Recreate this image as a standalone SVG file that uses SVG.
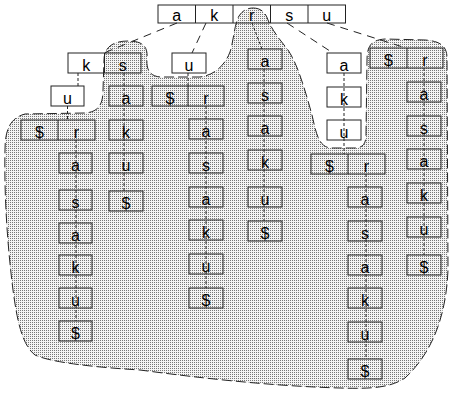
<svg xmlns="http://www.w3.org/2000/svg" width="450" height="394" viewBox="0 0 450 394">
<style>
.b{fill:none;stroke:#222;stroke-width:1}
.t{font-family:"Liberation Sans",Arial,sans-serif;font-size:16px;text-anchor:middle;fill:#000}
.e{fill:none;stroke:#222;stroke-width:1;stroke-dasharray:8 6}
.v{fill:none;stroke:#222;stroke-width:1;stroke-dasharray:3 2}
.rg{fill:url(#dots);stroke:#222;stroke-width:1;stroke-dasharray:10 4}
</style>
<defs>
<pattern id="dots" x="0" y="0" width="2" height="2" patternUnits="userSpaceOnUse">
<rect width="2" height="2" fill="#f4f4f4" shape-rendering="crispEdges"/>
<rect x="0" y="0" width="1" height="1" fill="#777" shape-rendering="crispEdges"/>
</pattern>
</defs>
<rect width="450" height="394" fill="#fff"/>
<g id="region">
<path class="rg" d="M253,8 C262,8 266,14 268,20 C272,30 280,40 288,50 C298,65 305,90 312,115 C316,132 318,146 330,148 L355,148 C364,148 366,142 366,135 L367,60 C367,45 372,40 385,39 L425,40 C440,41 447,46 447,58 L448,270 C446,320 430,355 405,378 C390,388 370,389 340,388 C270,386 200,378 140,370 C90,367 50,362 35,355 C22,345 17,320 13,290 C8,250 4,200 5,150 C5,130 10,118 25,114 L85,113 C98,112 103,105 103,90 L104,60 C104,46 115,41 128,41 C142,41 148,46 147,58 C146,70 150,76 160,77 L200,77 C215,75 225,65 230,52 C234,40 234,25 239,16 C243,10 248,8 253,8 Z"/>
</g>
<g id="connectors">
<path class="e" d="M177,23 L104,53"/>
<path class="e" d="M206,23 L192,53"/>
<path class="e" d="M287,23 L333,53"/>
<path class="e" d="M327,23 L406,48"/>
<path class="v" d="M78,73 V86"/>
<path class="v" d="M67.5,106 V120"/>
<path class="v" d="M76,140 V321"/>
<path class="v" d="M124,73 V191"/>
<path class="v" d="M188,73 V86"/>
<path class="v" d="M206,106 V288"/>
<path class="v" d="M252,23 L262,49"/>
<path class="v" d="M264,69 V221"/>
<path class="v" d="M344,73 V154"/>
<path class="v" d="M366,174 V359"/>
<path class="v" d="M424,68 V255"/>
</g>
<g id="root">
<rect class="b" x="158" y="5" width="187.5" height="18"/>
<path class="b" d="M195.5,5V23M233,5V23M270.5,5V23M308,5V23"/>
<text class="t" x="176.75" y="21">a</text><text class="t" x="214.25" y="21">k</text><text class="t" x="251.75" y="21">r</text><text class="t" x="289.25" y="21">s</text><text class="t" x="326.75" y="21">u</text>
</g>
<g id="n-ks">
<rect class="b" x="68" y="53" width="73" height="20"/><path class="b" d="M104.5,53V73"/>
<text class="t" x="86.25" y="71">k</text><text class="t" x="122.75" y="71">s</text>
</g>
<g id="n-u1"><rect class="b" x="51" y="86" width="33" height="20"/><text class="t" x="67.5" y="104">u</text></g>
<g id="n-dr1">
<rect class="b" x="21" y="120" width="74" height="20"/><path class="b" d="M58,120V140"/>
<text class="t" x="39.5" y="138">$</text><text class="t" x="76.5" y="138">r</text>
</g>
<g id="col1">
<rect class="b" x="59" y="153" width="33" height="20"/><text class="t" x="75.5" y="171">a</text>
<rect class="b" x="59" y="190" width="33" height="20"/><text class="t" x="75.5" y="208">s</text>
<rect class="b" x="59" y="223" width="33" height="20"/><text class="t" x="75.5" y="241">a</text>
<rect class="b" x="59" y="255" width="33" height="20"/><text class="t" x="75.5" y="273">k</text>
<rect class="b" x="59" y="288" width="33" height="20"/><text class="t" x="75.5" y="306">u</text>
<rect class="b" x="59" y="321" width="33" height="20"/><text class="t" x="75.5" y="339">$</text>
</g>
<g id="col2">
<rect class="b" x="109" y="86" width="34" height="20"/><text class="t" x="126" y="104">a</text>
<rect class="b" x="109" y="120" width="34" height="20"/><text class="t" x="126" y="138">k</text>
<rect class="b" x="109" y="153" width="34" height="20"/><text class="t" x="126" y="171">u</text>
<rect class="b" x="109" y="191" width="34" height="20"/><text class="t" x="126" y="209">$</text>
</g>
<g id="n-u2"><rect class="b" x="172" y="53" width="34" height="20"/><text class="t" x="189" y="71">u</text></g>
<g id="n-dr2">
<rect class="b" x="152" y="86" width="72" height="20"/><path class="b" d="M188,86V106"/>
<text class="t" x="170" y="104">$</text><text class="t" x="206" y="104">r</text>
</g>
<g id="col3">
<rect class="b" x="189" y="119" width="34" height="20"/><text class="t" x="206" y="137">a</text>
<rect class="b" x="189" y="153" width="34" height="20"/><text class="t" x="206" y="171">s</text>
<rect class="b" x="189" y="187" width="34" height="20"/><text class="t" x="206" y="205">a</text>
<rect class="b" x="189" y="220" width="34" height="20"/><text class="t" x="206" y="238">k</text>
<rect class="b" x="189" y="254" width="34" height="20"/><text class="t" x="206" y="272">u</text>
<rect class="b" x="189" y="288" width="34" height="20"/><text class="t" x="206" y="306">$</text>
</g>
<g id="col4">
<rect class="b" x="248" y="49" width="34" height="20"/><text class="t" x="265" y="67">a</text>
<rect class="b" x="248" y="83" width="34" height="20"/><text class="t" x="265" y="101">s</text>
<rect class="b" x="248" y="116" width="34" height="20"/><text class="t" x="265" y="134">a</text>
<rect class="b" x="248" y="150" width="34" height="20"/><text class="t" x="265" y="168">k</text>
<rect class="b" x="248" y="187" width="34" height="20"/><text class="t" x="265" y="205">u</text>
<rect class="b" x="248" y="221" width="34" height="20"/><text class="t" x="265" y="239">$</text>
</g>
<g id="n-aku">
<rect class="b" x="327" y="53" width="34" height="20"/><text class="t" x="344" y="71">a</text>
<rect class="b" x="327" y="87" width="34" height="20"/><text class="t" x="344" y="105">k</text>
<rect class="b" x="327" y="120" width="34" height="20"/><text class="t" x="344" y="138">u</text>
</g>
<g id="n-dr3">
<rect class="b" x="311" y="154" width="74" height="20"/><path class="b" d="M348,154V174"/>
<text class="t" x="329.5" y="172">$</text><text class="t" x="366.5" y="172">r</text>
</g>
<g id="col5">
<rect class="b" x="348" y="187" width="34" height="20"/><text class="t" x="365" y="205">a</text>
<rect class="b" x="348" y="221" width="34" height="20"/><text class="t" x="365" y="239">s</text>
<rect class="b" x="348" y="255" width="34" height="20"/><text class="t" x="365" y="273">a</text>
<rect class="b" x="348" y="288" width="34" height="20"/><text class="t" x="365" y="306">k</text>
<rect class="b" x="348" y="322" width="34" height="20"/><text class="t" x="365" y="340">u</text>
<rect class="b" x="348" y="359" width="34" height="20"/><text class="t" x="365" y="377">$</text>
</g>
<g id="n-dr4">
<rect class="b" x="370" y="48" width="73" height="20"/><path class="b" d="M407,48V68"/>
<text class="t" x="388.5" y="66">$</text><text class="t" x="425" y="66">r</text>
</g>
<g id="col6">
<rect class="b" x="407" y="82" width="34" height="20"/><text class="t" x="424" y="100">a</text>
<rect class="b" x="407" y="116" width="34" height="20"/><text class="t" x="424" y="134">s</text>
<rect class="b" x="407" y="149" width="34" height="20"/><text class="t" x="424" y="167">a</text>
<rect class="b" x="407" y="183" width="34" height="20"/><text class="t" x="424" y="201">k</text>
<rect class="b" x="407" y="217" width="34" height="20"/><text class="t" x="424" y="235">u</text>
<rect class="b" x="407" y="255" width="34" height="20"/><text class="t" x="424" y="273">$</text>
</g>
</svg>
